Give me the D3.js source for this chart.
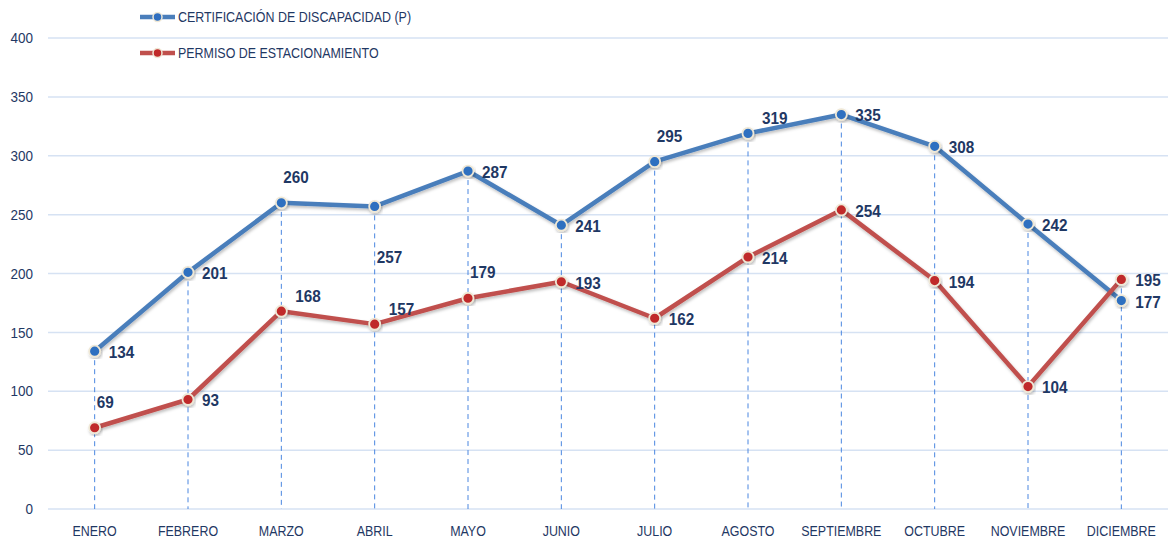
<!DOCTYPE html>
<html><head><meta charset="utf-8">
<script src="https://cdn.jsdelivr.net/npm/d3@7"></script>
<style>
body{margin:0;background:#fff;}
text{font-family:"Liberation Sans","Arial",sans-serif;}
</style></head>
<body><svg id="c" width="1172" height="541"></svg>
<script>
const months = ["ENERO","FEBRERO","MARZO","ABRIL","MAYO","JUNIO","JULIO","AGOSTO","SEPTIEMBRE","OCTUBRE","NOVIEMBRE","DICIEMBRE"];
const certificacion = [134,201,260,257,287,241,295,319,335,308,242,177];
const permiso = [69,93,168,157,179,193,162,214,254,194,104,195];
const yTicks = [0,50,100,150,200,250,300,350,400];
const seriesNames = ["CERTIFICACIÓN DE DISCAPACIDAD (P)","PERMISO DE ESTACIONAMIENTO"];
// label placement: r = right, a = above, ar = above-right, br = below-right
const certPlace = ["r","r","a","br","r","r","a","ar","r","r","r","r"];
const permPlace = ["a","r","ar","ar","a","r","r","r","r","r","r","r"];

const svg = d3.select("#c");
const L=48, R=1168, T=38, B=509;
const x = d3.scaleBand().domain(months).range([L,R]);
const y = d3.scaleLinear().domain([0,400]).range([B,T]);
const cx = m => x(m)+x.bandwidth()/2;
const squeeze = (sel,k) => sel.attr("transform",function(){const xx=+this.getAttribute("x");return `translate(${xx},0) scale(${k},1) translate(${-xx},0)`;});

const defs = svg.append("defs");
const f = defs.append("filter").attr("id","sh").attr("x","-20%").attr("y","-20%").attr("width","140%").attr("height","140%");
f.append("feDropShadow").attr("dx",1).attr("dy",2).attr("stdDeviation",1.5).attr("flood-color","#000").attr("flood-opacity",0.25);

svg.append("g").selectAll("line").data(yTicks).join("line")
  .attr("x1",L).attr("x2",R).attr("y1",d=>y(d)).attr("y2",d=>y(d))
  .attr("stroke","#d6e2f3").attr("stroke-width",1.5);

svg.append("g").selectAll("text").data(yTicks).join("text")
  .attr("x",33).attr("y",d=>y(d)).attr("dy","0.35em").attr("text-anchor","end")
  .attr("font-size",15).attr("fill","#1f3864").text(d=>d).call(squeeze,0.9);

svg.append("g").selectAll("text").data(months).join("text")
  .attr("x",d=>cx(d)).attr("y",531).attr("dy","0.35em").attr("text-anchor","middle")
  .attr("font-size",15).attr("fill","#1f3864").text(d=>d).call(squeeze,0.83);

svg.append("g").selectAll("line").data(months).join("line")
  .attr("x1",d=>cx(d)).attr("x2",d=>cx(d))
  .attr("y1",(d,i)=>y(Math.max(certificacion[i],permiso[i]))).attr("y2",B)
  .attr("stroke","#4a86e0").attr("stroke-width",1).attr("stroke-dasharray","5,4");

const line = d3.line().x((d,i)=>cx(months[i])).y(d=>y(d));
const series = [
  {vals:certificacion,color:"#4a7ebb",mark:"#2f6fc0",place:certPlace},
  {vals:permiso,color:"#c0504d",mark:"#c02a2a",place:permPlace}
];
series.forEach(s=>{
  svg.append("path").datum(s.vals).attr("d",line).attr("fill","none")
    .attr("stroke",s.color).attr("stroke-width",4.5).attr("stroke-linejoin","round").attr("filter","url(#sh)");
});
series.forEach(s=>{
  svg.append("g").selectAll("circle").data(s.vals).join("circle")
    .attr("cx",(d,i)=>cx(months[i])).attr("cy",d=>y(d)).attr("r",5.5)
    .attr("fill",s.mark).attr("stroke","#efe8d6").attr("stroke-width",1.8).attr("filter","url(#sh)");
});
const off = {r:[14,1],a:[2,-26],ar:[14,-15],br:[2,51]};
series.forEach(s=>{
  svg.append("g").selectAll("text").data(s.vals).join("text")
    .attr("x",(d,i)=>cx(months[i])+off[s.place[i]][0])
    .attr("y",(d,i)=>y(d)+off[s.place[i]][1])
    .attr("dy","0.35em").attr("font-size",17).attr("font-weight","bold")
    .attr("fill","#1f3864").text(d=>d).call(squeeze,0.9);
});

const lg = svg.append("g");
seriesNames.forEach((n,i)=>{
  const yy = i===0?17:53;
  const s = series[i];
  lg.append("line").attr("x1",140).attr("x2",175).attr("y1",yy).attr("y2",yy)
    .attr("stroke",s.color).attr("stroke-width",4.5);
  lg.append("circle").attr("cx",157.5).attr("cy",yy).attr("r",4.5).attr("fill",s.mark)
    .attr("stroke","#efe8d6").attr("stroke-width",1.5);
  lg.append("text").attr("x",178).attr("y",yy).attr("dy","0.35em").attr("font-size",15)
    .attr("fill","#1f3864").text(n).call(squeeze,0.83);
});
</script></body></html>
